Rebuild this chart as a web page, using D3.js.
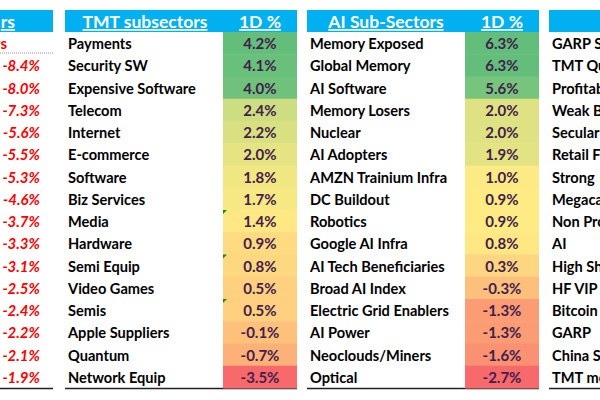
<!DOCTYPE html>
<html>
<head>
<meta charset="utf-8">
<script src="https://cdn.jsdelivr.net/npm/d3@7"></script>
<style>
  body { margin: 0; background: #fff; }
  svg { display: block; font-family: Lato, "Open Sans", sans-serif; }
</style>
</head>
<body>
<div id="chart"></div>
<script>
// left panel (only the value column is visible)
const loserHeader = 'rs';
const loserValues = [-8.4, -8.0, -7.3, -5.6, -5.5, -5.3, -4.6, -3.7, -3.3, -3.1, -2.5, -2.4, -2.2, -2.1, -1.9];

const tmtLabels = ['Payments', 'Security SW', 'Expensive Software', 'Telecom', 'Internet', 'E-commerce',
  'Software', 'Biz Services', 'Media', 'Hardware', 'Semi Equip', 'Video Games', 'Semis',
  'Apple Suppliers', 'Quantum', 'Network Equip'];
const tmtValues = [4.2, 4.1, 4.0, 2.4, 2.2, 2.0, 1.8, 1.7, 1.4, 0.9, 0.8, 0.5, 0.5, -0.1, -0.7, -3.5];
const tmtFlagged = ['Media', 'Semi Equip', 'Semis'];

const aiLabels = ['Memory Exposed', 'Global Memory', 'AI Software', 'Memory Losers', 'Nuclear', 'AI Adopters',
  'AMZN Trainium Infra', 'DC Buildout', 'Robotics', 'Google AI Infra', 'AI Tech Beneficiaries',
  'Broad AI Index', 'Electric Grid Enablers', 'AI Power', 'Neoclouds/Miners', 'Optical'];
const aiValues = [6.3, 6.3, 5.6, 2.0, 2.0, 1.9, 1.0, 0.9, 0.9, 0.8, 0.3, -0.3, -1.3, -1.3, -1.6, -2.7];

// right panel, cut off by the picture edge
const rightLabels = ['GARP S', 'TMT Qu', 'Profitab', 'Weak B', 'Secular', 'Retail F', 'Strong',
  'Megaca', 'Non Pro', 'AI', 'High Sh', 'HF VIP', 'Bitcoin', 'GARP', 'China S', 'TMT mo'];

const headers = [
  { x0: -20, x1: 53, title: loserHeader, titleX: 15, titleAnchor: 'end' },
  { x0: 65, x1: 297, title: 'TMT subsectors', titleX: 145, titleAnchor: 'middle', colX: 260 },
  { x0: 307, x1: 539, title: 'AI Sub-Sectors', titleX: 386, titleAnchor: 'middle', colX: 502 },
  { x0: 549, x1: 620 }
];

const W = 600, H = 400;
const tableTop = 32, tableBottom = 388;
const BLUE = '#00B0F0', VAL = '#42204c';

const svg = d3.select('#chart').append('svg')
  .attr('width', W).attr('height', H);

const y = d3.scaleBand().domain(d3.range(16)).range([tableTop, tableBottom]);

function colorFor(values) {
  return d3.scaleLinear()
    .domain([d3.min(values), d3.median(values), d3.max(values)])
    .range(['#F8696B', '#FFEB84', '#63BE7B'])
    .interpolate(d3.interpolateRgb);
}

// header bars
headers.forEach(h => {
  svg.append('rect')
    .attr('x', h.x0).attr('y', 10)
    .attr('width', h.x1 - h.x0).attr('height', tableTop - 10)
    .attr('fill', BLUE);
  if (h.title) {
    svg.append('text')
      .attr('x', h.titleX).attr('y', 28)
      .attr('text-anchor', h.titleAnchor)
      .attr('fill', '#fff').attr('font-weight', 'bold').attr('font-size', '17.5px')
      .style('text-decoration', 'underline')
      .text(h.title);
  }
  if (h.colX) {
    svg.append('text')
      .attr('x', h.colX).attr('y', 28)
      .attr('text-anchor', 'middle')
      .attr('fill', '#fff').attr('font-weight', 'bold').attr('font-size', '17.5px')
      .style('text-decoration', 'underline')
      .text('1D %');
  }
  svg.append('line')
    .attr('x1', h.x0).attr('x2', h.x1)
    .attr('y1', tableBottom + 0.5).attr('y2', tableBottom + 0.5)
    .attr('stroke', '#222').attr('stroke-width', 1.5);
});

// left panel: red header row + red italic values
svg.append('text')
  .attr('x', 7).attr('y', y(0) + 17)
  .attr('text-anchor', 'end')
  .attr('fill', '#f00').attr('font-weight', 'bold').attr('font-size', '15px')
  .text(loserHeader);
svg.append('line')
  .attr('x1', 0).attr('x2', 53).attr('y1', 53).attr('y2', 53)
  .attr('stroke', '#999').attr('stroke-dasharray', '1,1');

svg.append('g').selectAll('text')
  .data(loserValues)
  .join('text')
  .attr('x', 40).attr('y', (d, i) => y(i + 1) + 17)
  .attr('text-anchor', 'end')
  .attr('fill', '#f00').attr('font-weight', 'bold').attr('font-style', 'italic')
  .attr('font-size', '15px')
  .text(d => d.toFixed(1) + '%');

function heatPanel(labels, values, labelX, cellX0, cellX1, flagged) {
  const color = colorFor(values);
  const g = svg.append('g');
  const rows = labels.map((l, i) => ({ label: l, value: values[i], i }));

  g.selectAll('rect.cell')
    .data(rows)
    .join('rect')
    .attr('class', 'cell')
    .attr('x', cellX0).attr('y', d => y(d.i))
    .attr('width', cellX1 - cellX0).attr('height', y.bandwidth() + 0.5)
    .attr('fill', d => color(d.value));

  g.selectAll('text.lab')
    .data(rows)
    .join('text')
    .attr('class', 'lab')
    .attr('x', labelX).attr('y', d => y(d.i) + 17)
    .attr('fill', '#000').attr('font-weight', 'bold').attr('font-size', '14.6px')
    .text(d => d.label);

  g.selectAll('text.val')
    .data(rows)
    .join('text')
    .attr('class', 'val')
    .attr('x', (cellX0 + cellX1) / 2).attr('y', d => y(d.i) + 17)
    .attr('text-anchor', 'middle')
    .attr('fill', VAL).attr('font-weight', 'bold').attr('font-size', '15px')
    .text(d => d.value.toFixed(1) + '%');

  // excel "number stored as text" markers
  g.selectAll('path.flag')
    .data(rows.filter(d => flagged.includes(d.label)))
    .join('path')
    .attr('class', 'flag')
    .attr('d', d => `M${cellX0},${y(d.i)}h4l-4,4z`)
    .attr('fill', '#1a8a1a');
}

heatPanel(tmtLabels, tmtValues, 68, 223, 297, tmtFlagged);
heatPanel(aiLabels, aiValues, 310, 465, 539, []);

svg.append('g').selectAll('text')
  .data(rightLabels)
  .join('text')
  .attr('x', 552).attr('y', (d, i) => y(i) + 17)
  .attr('fill', '#000').attr('font-weight', 'bold').attr('font-size', '14.6px')
  .text(d => d);
</script>
</body>
</html>
